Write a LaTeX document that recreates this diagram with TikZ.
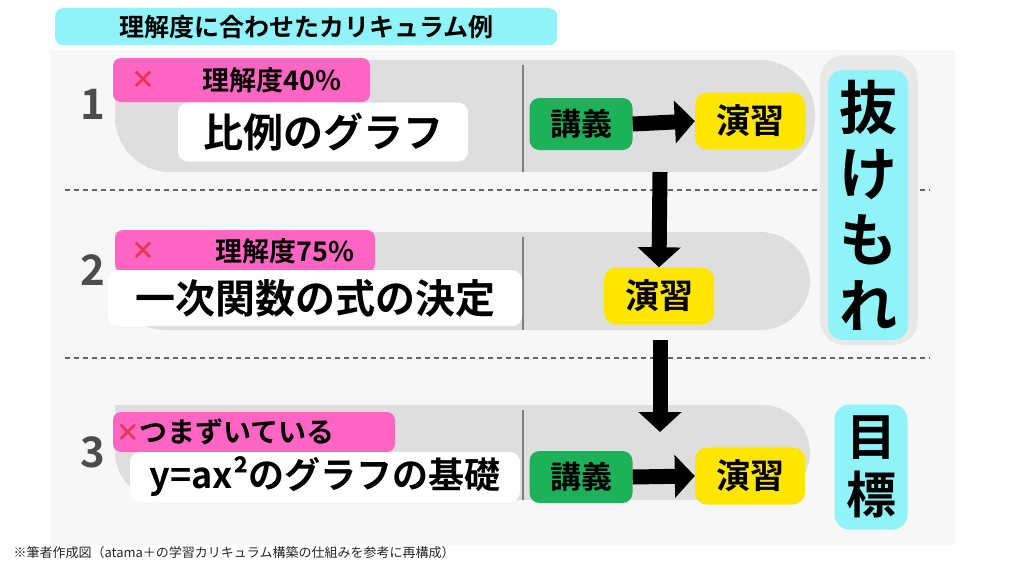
\documentclass[tikz,border=0pt]{standalone}
\usepackage{fontspec}
\setmainfont{Noto Sans CJK JP}[BoldFont={Noto Sans CJK JP Bold}]
\newfontfamily\djv{DejaVu Sans}
\usetikzlibrary{arrows.meta}
\definecolor{band}{HTML}{DEDEDE}
\definecolor{panel}{HTML}{F7F7F7}
\definecolor{cy}{HTML}{8FF3F8}
\definecolor{pk}{HTML}{FF66C4}
\definecolor{gr}{HTML}{1DB15A}
\definecolor{yl}{HTML}{FFE600}
\definecolor{xr}{HTML}{E8344E}
\tikzset{
 txt/.style={font=\bfseries, text=black, inner sep=0pt},
 wbox/.style={fill=white, rounded corners=10pt},
 lect/.style={fill=gr, rounded corners=10pt, minimum width=103pt, minimum height=52pt, font=\bfseries\fontsize{31}{31}\selectfont},
 prac/.style={fill=yl, rounded corners=12pt, minimum width=110pt, minimum height=57pt, font=\bfseries\fontsize{34}{34}\selectfont},
 num/.style={font=\bfseries\fontsize{42}{42}\selectfont, text=black!70},
 blk/.style={line width=15pt, -{Triangle[length=20pt,width=42pt]}},
 dl/.style={line width=1.2pt, black!60, dash pattern=on 5pt off 4pt},
 xmark/.style={text=xr, font=\djv\fontsize{28}{28}\selectfont, inner sep=0pt},
}
\begin{document}
\begin{tikzpicture}[x=1pt,y=-1pt]
\useasboundingbox (0,0) rectangle (1024,576);
\fill[white] (0,0) rectangle (1024,576);
\fill[panel] (50,50) rectangle (955,545);
% title
\node[fill=cy, rounded corners=8pt, minimum width=502pt, minimum height=37pt, font=\bfseries\fontsize{25}{25}\selectfont, anchor=north west] (title) at (55,8) {理解度に合わせたカリキュラム例};
% bands
\fill[band] (115,60) [rounded corners=55pt] -- (815,60) -- (815,172) -- (115,172) [sharp corners] -- (115,60) -- cycle;
\fill[band] (115,232) [rounded corners=50pt] -- (810,232) -- (810,330) -- (115,330) [sharp corners] -- (115,232) -- cycle;
\fill[band] (115,405) [rounded corners=48pt] -- (810,405) -- (810,500) -- (115,500) [sharp corners] -- (115,405) -- cycle;
\foreach \a/\b in {65/172,237/330,410/500} \draw[black!50, line width=1.5pt] (523,\a) -- (523,\b);
% dashed
\draw[dl] (65,190) -- (930,190);
\draw[dl] (65,358) -- (930,358);
% numbers
\node[num] (n1) at (93,104) {1};
\node[num] (n2) at (93,270) {2};
\node[num] (n3) at (93,452) {3};
% row1
\fill[pk, rounded corners=8pt] (113,58) rectangle (370,102);
\node[xmark] (x1) at (143,80) {✕};
\node[txt, font=\bfseries\fontsize{27}{27}\selectfont] (t1) at (272,80) {理解度40\%};
\node[wbox, minimum width=290pt, minimum height=59pt, font=\bfseries\fontsize{40}{40}\selectfont] (w1) at (323,132) {比例のグラフ};
\node[lect] (l1) at (581,124) {講義};
\node[prac] (p1) at (750,121) {演習};
% row2
\fill[pk, rounded corners=8pt] (115,230) rectangle (375,272);
\node[xmark] (x2) at (143,251) {✕};
\node[txt, font=\bfseries\fontsize{27}{27}\selectfont] (t2) at (285,251) {理解度75\%};
\node[wbox, minimum width=414pt, minimum height=56pt, font=\bfseries\fontsize{40}{40}\selectfont] (w2) at (315,298) {一次関数の式の決定};
\node[prac] (p2) at (659,296) {演習};
% row3
\fill[pk, rounded corners=8pt] (113,412) rectangle (395,452);
\node[txt, font=\bfseries\fontsize{28}{28}\selectfont, anchor=west] (t3) at (116,432) {{\djv\color{xr}✕}つまずいている};
\node[wbox, minimum width=390pt, minimum height=50pt, font=\bfseries\fontsize{36}{36}\selectfont] (w3) at (325,477) {y=ax²のグラフの基礎};
\node[lect] (l3) at (581,477) {講義};
\node[prac] (p3) at (750,476) {演習};
% arrows
\draw[blk] (l1.east) -- (p1.west);
\draw[blk] (l3.east) -- (p3.west);
\coordinate (d1) at (660,172);
\draw[blk] (d1) -- (p2.north);
\coordinate (d2) at (660,340);
\coordinate (d2e) at (660,432);
\draw[blk] (d2) -- (d2e);
% right column
\fill[band!70, rounded corners=25pt] (820,55) rectangle (918,345);
\node[fill=cy, rounded corners=15pt, minimum width=80pt, minimum height=270pt, align=center, font=\bfseries\fontsize{58}{66}\selectfont] (nuke) at (868,205) {抜\\け\\も\\れ};
\node[fill=cy, rounded corners=15pt, minimum width=73pt, minimum height=125pt, align=center, font=\bfseries\fontsize{50}{58}\selectfont] (goal) at (871,467) {目\\標};
% footnote
\node[anchor=west, font=\fontsize{13}{13}\selectfont, text=black!85] (foot) at (10,553) {※筆者作成図（atama＋の学習カリキュラム構築の仕組みを参考に再構成）};
\end{tikzpicture}
\end{document}
